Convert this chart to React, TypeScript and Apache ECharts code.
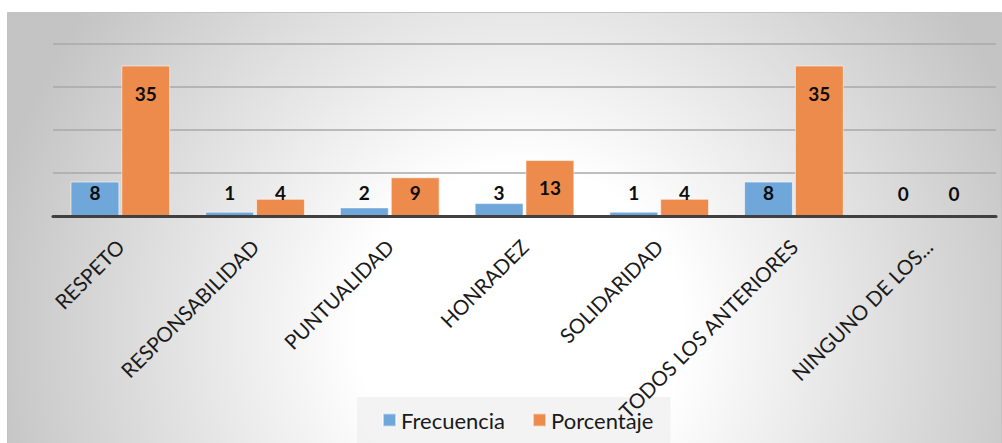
import React, { useEffect, useRef } from "react";
import * as echarts from "echarts";

const categories = [
  "RESPETO",
  "RESPONSABILIDAD",
  "PUNTUALIDAD",
  "HONRADEZ",
  "SOLIDARIDAD",
  "TODOS LOS ANTERIORES",
  "NINGUNO DE LOS...",
];
const frecuencia = [8, 1, 2, 3, 1, 8, 0];
const porcentaje = [35, 4, 9, 13, 4, 35, 0];
const yTicks = { min: 0, max: 40, interval: 10 };

const FONT = "Lato, 'Open Sans', sans-serif";

function withLabels(values: number[]) {
  return values.map((v) => ({
    value: v,
    label:
      v >= 12
        ? { position: "insideTop", distance: 18 }
        : { position: "insideBottom", distance: 14 },
  }));
}

export default function App() {
  const ref = useRef<HTMLDivElement>(null);
  useEffect(() => {
    if (!ref.current) return;
    const chart = echarts.init(ref.current, null, { renderer: "svg" });
    const labelStyle = {
      show: true,
      color: "#0d0d0d",
      fontSize: 19,
      fontWeight: "bold",
      fontFamily: FONT,
    };
    chart.setOption({
      animation: false,
      graphic: {
        elements: [
          {
            type: "rect",
            z: -100,
            silent: true,
            shape: { x: 7.5, y: 12.5, width: 994, height: 440 },
            style: {
              fill: {
                type: "radial",
                x: 520,
                y: 330,
                r: 540,
                global: true,
                colorStops: [
                  { offset: 0, color: "#ffffff" },
                  { offset: 0.3, color: "#ffffff" },
                  { offset: 1, color: "#c4c4c4" },
                ],
              },
              stroke: "#c3c3c3",
              lineWidth: 1,
            },
          },
        ],
      },
      grid: { left: 53, right: 6, top: 44, bottom: 227, containLabel: false },
      legend: {
        data: ["Frecuencia", "Porcentaje"],
        left: 357,
        top: 397,
        padding: [12, 17, 12, 25],
        itemWidth: 13,
        itemHeight: 13,
        itemGap: 27,
        icon: "rect",
        backgroundColor: "rgba(240,240,240,0.8)",
        textStyle: { fontSize: 22, color: "#1a1a1a", fontFamily: FONT },
      },
      xAxis: {
        type: "category",
        data: categories,
        z: 10,
        axisTick: { show: false },
        axisLine: { lineStyle: { color: "#404040", width: 3 } },
        axisLabel: {
          interval: 0,
          rotate: 45,
          margin: 27,
          fontSize: 20.5,
          color: "#1a1a1a",
          fontFamily: FONT,
        },
      },
      yAxis: {
        type: "value",
        min: yTicks.min,
        max: yTicks.max,
        interval: yTicks.interval,
        axisLabel: { show: false },
        axisLine: { show: false },
        axisTick: { show: false },
        splitLine: { lineStyle: { color: "#a8a8a8", width: 1.5 } },
      },
      series: [
        {
          name: "Frecuencia",
          type: "bar",
          data: withLabels(frecuencia),
          barCategoryGap: "26%",
          barGap: "4%",
          itemStyle: {
            color: "#6fa7da",
            borderColor: "rgba(255,255,255,0.55)",
            borderWidth: 1,
          },
          label: labelStyle,
        },
        {
          name: "Porcentaje",
          type: "bar",
          data: withLabels(porcentaje),
          barCategoryGap: "26%",
          barGap: "4%",
          itemStyle: {
            color: "#ed8b4c",
            borderColor: "rgba(255,255,255,0.55)",
            borderWidth: 1,
          },
          label: labelStyle,
        },
      ],
    });
    return () => chart.dispose();
  }, []);
  return (
    <div
      ref={ref}
      style={{ position: "absolute", left: 0, top: 0, width: 1002, height: 443 }}
    />
  );
}
